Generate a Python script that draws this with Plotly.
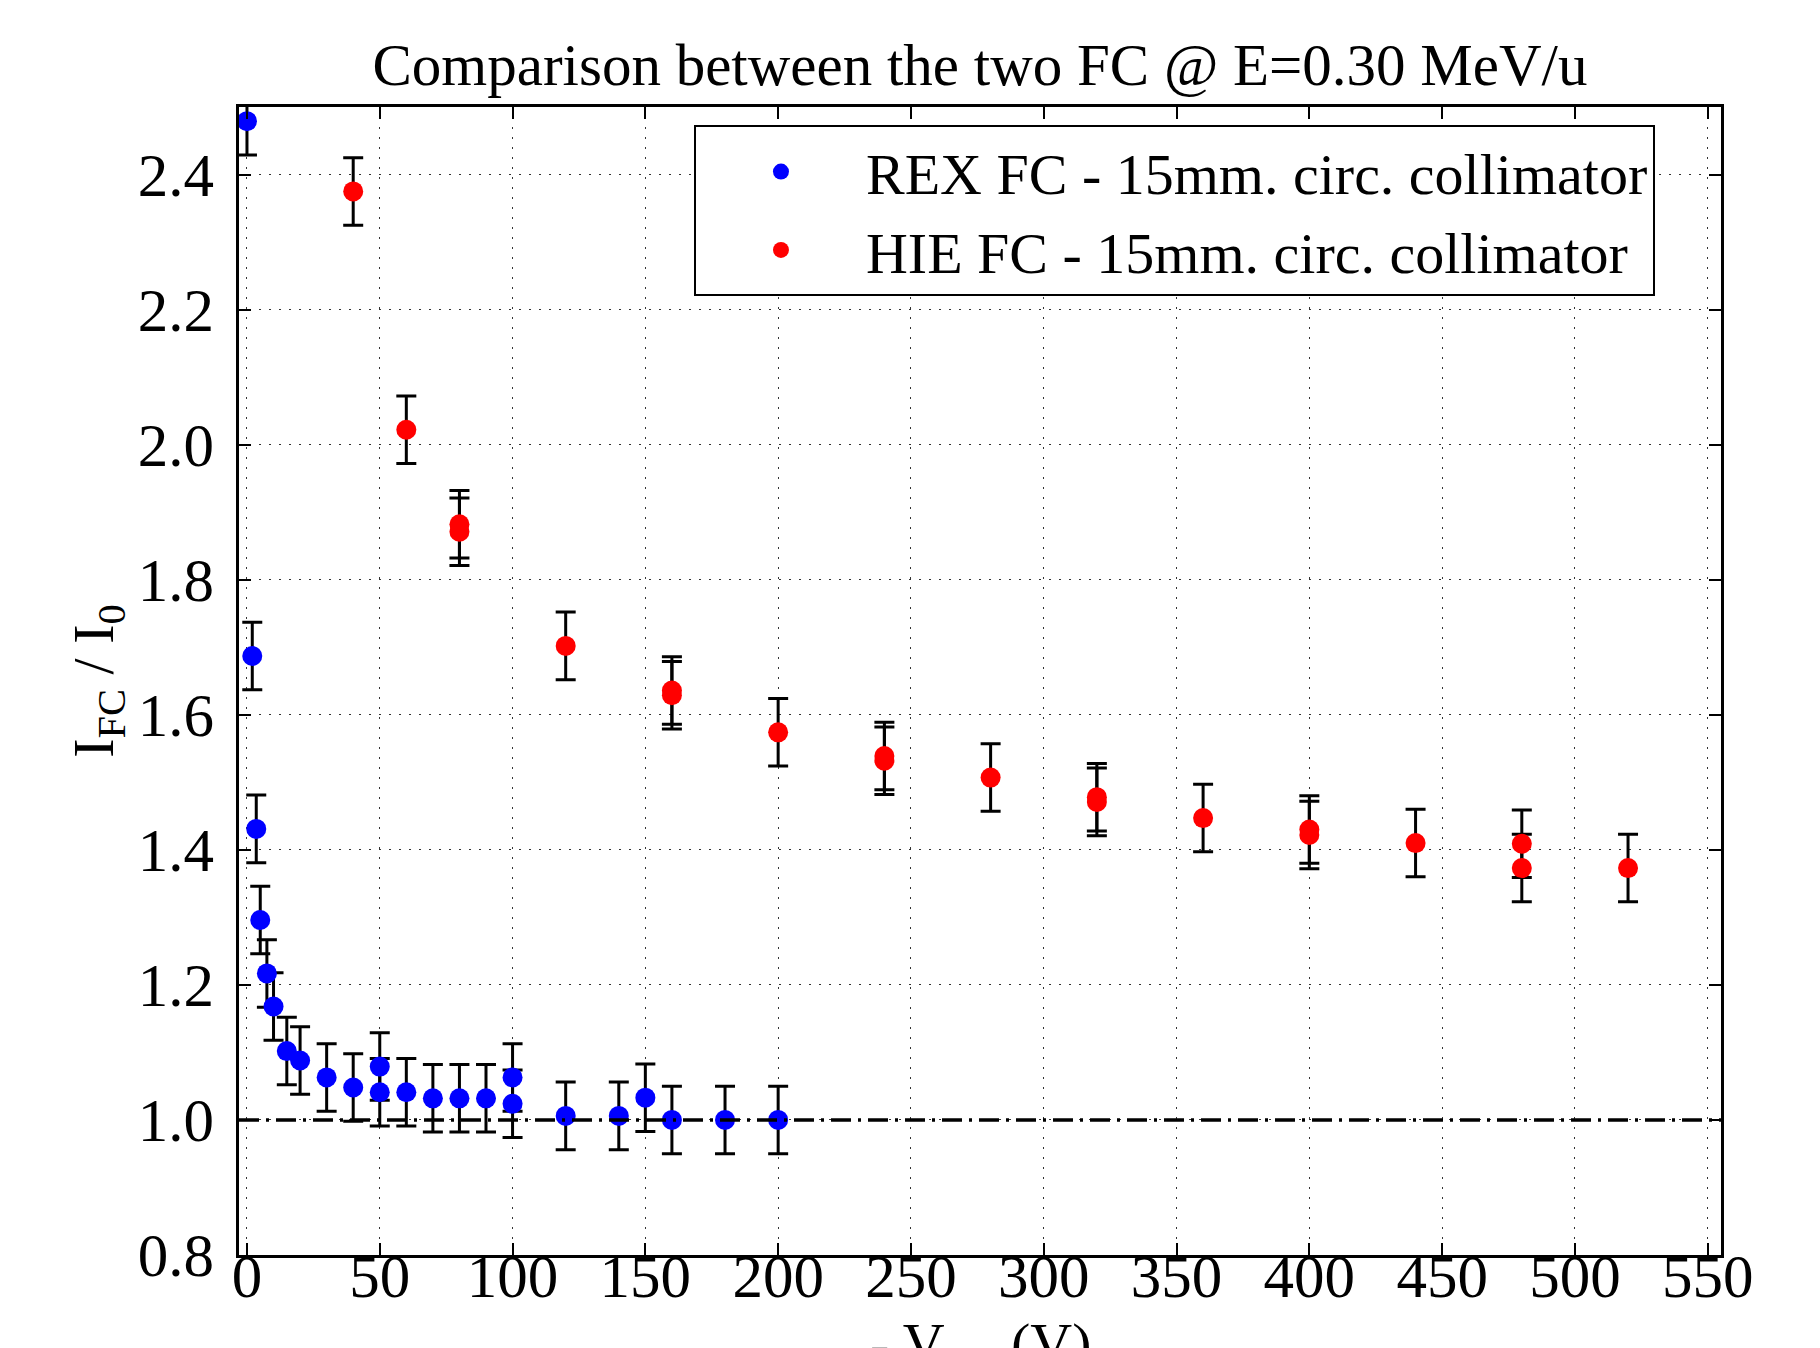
import plotly.graph_objects as go

# ---- data ----
rex_v = [0, 2, 3.5, 5, 7.5, 10, 15, 20, 30, 40, 50, 50, 60, 70, 80, 90, 100, 100,
         120, 140, 150, 160, 180, 200]
rex_ratio = [2.479, 1.687, 1.431, 1.296, 1.217, 1.168, 1.102, 1.088, 1.063, 1.048,
             1.079, 1.041, 1.041, 1.032, 1.032, 1.032, 1.063, 1.024,
             1.006, 1.006, 1.033, 1.0, 1.0, 1.0]
rex_err = [0.05] * len(rex_v)

hie_v = [40, 60, 80, 80, 120, 160, 160, 200, 240, 240, 280, 320, 320, 360, 400, 400,
         440, 480, 480, 520]
hie_ratio = [2.375, 2.022, 1.882, 1.871, 1.702, 1.636, 1.629, 1.574, 1.539, 1.532,
             1.507, 1.478, 1.471, 1.447, 1.430, 1.422, 1.410, 1.409, 1.373, 1.373]
hie_err = [0.05] * len(hie_v)

reference_level = 1.0
x_ticks = [0, 50, 100, 150, 200, 250, 300, 350, 400, 450, 500, 550]
y_ticks = [0.8, 1.0, 1.2, 1.4, 1.6, 1.8, 2.0, 2.2, 2.4]

title_text = "Comparison between the two FC @ E=0.30 MeV/u"
rex_label = "REX FC - 15mm. circ. collimator"
hie_label = "HIE FC - 15mm. circ. collimator"
x_label = "- V<sub>rep</sub> (V)"
y_label = "I<sub>FC</sub> / I<sub>0</sub>"

FONT = "Liberation Serif"

fig = go.Figure()

err_style = dict(type="data", visible=True, color="black", thickness=3, width=10)

fig.add_trace(go.Scatter(
    x=rex_v, y=rex_ratio, mode="markers", name=rex_label,
    marker=dict(color="#0000ff", size=20, line=dict(width=0)),
    error_y=dict(array=rex_err, **err_style),
))
fig.add_trace(go.Scatter(
    x=hie_v, y=hie_ratio, mode="markers", name=hie_label,
    marker=dict(color="#ff0000", size=20, line=dict(width=0)),
    error_y=dict(array=hie_err, **err_style),
))

fig.add_shape(type="line", xref="paper", x0=0, x1=1, yref="y",
              y0=reference_level, y1=reference_level,
              line=dict(color="black", width=3.5, dash="20px,7px,3px,7px"),
              layer="above")

axis_common = dict(
    showline=True, linecolor="black", linewidth=2.5, mirror="ticks",
    ticks="inside", ticklen=12, tickwidth=2, tickcolor="black",
    showgrid=True, gridcolor="#333333", gridwidth=1.4, griddash="2px,8px",
    zeroline=False, automargin=False,
    tickfont=dict(family=FONT, size=61, color="black"),
)

fig.update_xaxes(
    range=[-3, 555], tickvals=x_ticks, ticktext=[str(t) for t in x_ticks],
    ticklabelstandoff=-34,
    **axis_common,
)
fig.update_yaxes(
    range=[0.8, 2.5], tickvals=y_ticks, ticktext=[f"{t:.1f}" for t in y_ticks],
    title=dict(text=y_label, font=dict(family=FONT, size=58, color="black"), standoff=6),
    ticklabelstandoff=10,
    **axis_common,
)

# x-axis title (partly below the page edge, as in the reference crop)
fig.add_annotation(text=x_label, xref="paper", yref="paper", x=0.5, y=-0.047,
                   xanchor="center", yanchor="top", showarrow=False,
                   font=dict(family=FONT, size=58, color="black"))

fig.update_layout(
    width=1820, height=1348,
    margin=dict(l=231, r=107, t=99, b=101, pad=0),
    paper_bgcolor="white", plot_bgcolor="white",
    font=dict(family=FONT, color="black"),
    title=dict(text=title_text, x=0.5, xref="paper", xanchor="center",
               y=1, yref="paper", yanchor="bottom", pad=dict(b=22),
               font=dict(family=FONT, size=59, color="black")),
    showlegend=True,
    legend=dict(x=0.307, y=0.984, xanchor="left", yanchor="top",
                bgcolor="white", bordercolor="black", borderwidth=2,
                font=dict(family=FONT, size=58, color="black"),
                itemwidth=160, tracegroupgap=0),
)

fig.write_html("out.html")
